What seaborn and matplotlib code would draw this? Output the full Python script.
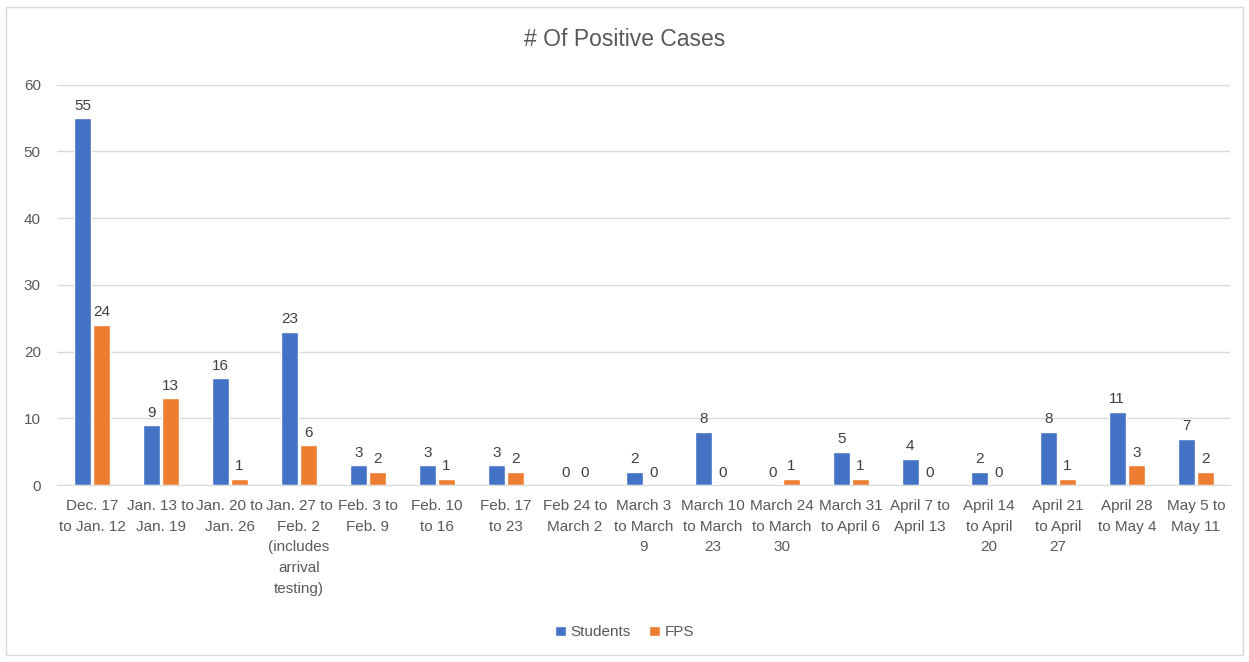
import pandas as pd
import seaborn as sns
import matplotlib.pyplot as plt
from matplotlib.patches import Rectangle

weeks = [
    "Dec. 17\nto Jan. 12", "Jan. 13 to\nJan. 19", "Jan. 20 to\nJan. 26",
    "Jan. 27 to\nFeb. 2\n(includes\narrival\ntesting)", "Feb. 3 to\nFeb. 9",
    "Feb. 10\nto 16", "Feb. 17\nto 23", "Feb 24 to\nMarch 2", "March 3\nto March\n9",
    "March 10\nto March\n23", "March 24\nto March\n30", "March 31\nto April 6",
    "April 7 to\nApril 13", "April 14\nto April\n20", "April 21\nto April\n27",
    "April 28\nto May 4", "May 5 to\nMay 11",
]
students = [55, 9, 16, 23, 3, 3, 3, 0, 2, 8, 0, 5, 4, 2, 8, 11, 7]
fps = [24, 13, 1, 6, 2, 1, 2, 0, 0, 0, 1, 1, 0, 0, 1, 3, 2]

df = pd.DataFrame({
    "Week": weeks * 2,
    "Cases": students + fps,
    "Group": ["Students"] * len(weeks) + ["FPS"] * len(weeks),
})

sns.set_style("white")
plt.rcParams['font.family'] = ['Liberation Sans', 'DejaVu Sans']
grey = "#595959"

fig = plt.figure(figsize=(12.49, 6.62), dpi=100)
fig.patches.append(Rectangle((0.005, 0.01), 0.99, 0.98, transform=fig.transFigure,
                             fill=False, edgecolor="#d9d9d9", linewidth=1))
ax = fig.add_axes([0.046, 0.267, 0.939, 0.605])

sns.barplot(data=df, x="Week", y="Cases", hue="Group", saturation=1,
            palette=["#4472C4", "#ED7D31"], width=0.55, gap=0.08, ax=ax)

for c in ax.containers:
    ax.bar_label(c, padding=4, fontsize=11, color="#404040")

ax.set_ylim(0, 60)
ax.set_yticks(range(0, 61, 10))
ax.yaxis.grid(True, color="#d9d9d9", linewidth=1)
ax.set_axisbelow(True)
sns.despine(ax=ax, left=True)
ax.spines["bottom"].set_color("#d9d9d9")
ax.tick_params(axis="both", length=0, colors=grey, labelsize=11)
ax.tick_params(axis="x", pad=10)
ax.tick_params(axis="y", pad=12)
for lbl in ax.get_xticklabels():
    lbl.set_linespacing(1.6)
ax.set_xlabel("")
ax.set_ylabel("")
ax.set_xlim(-0.5, len(weeks) - 0.5)

fig.text(0.5, 0.94, "# Of Positive Cases", ha="center", va="center",
         fontsize=16.5, color=grey)

ax.legend(loc="center", bbox_to_anchor=(0.5, 0.045), bbox_transform=fig.transFigure,
          ncol=2, frameon=False, fontsize=11, labelcolor=grey,
          handlelength=0.7, handleheight=0.7, columnspacing=1.2, handletextpad=0.3)

fig.savefig("out.png", dpi=100)
